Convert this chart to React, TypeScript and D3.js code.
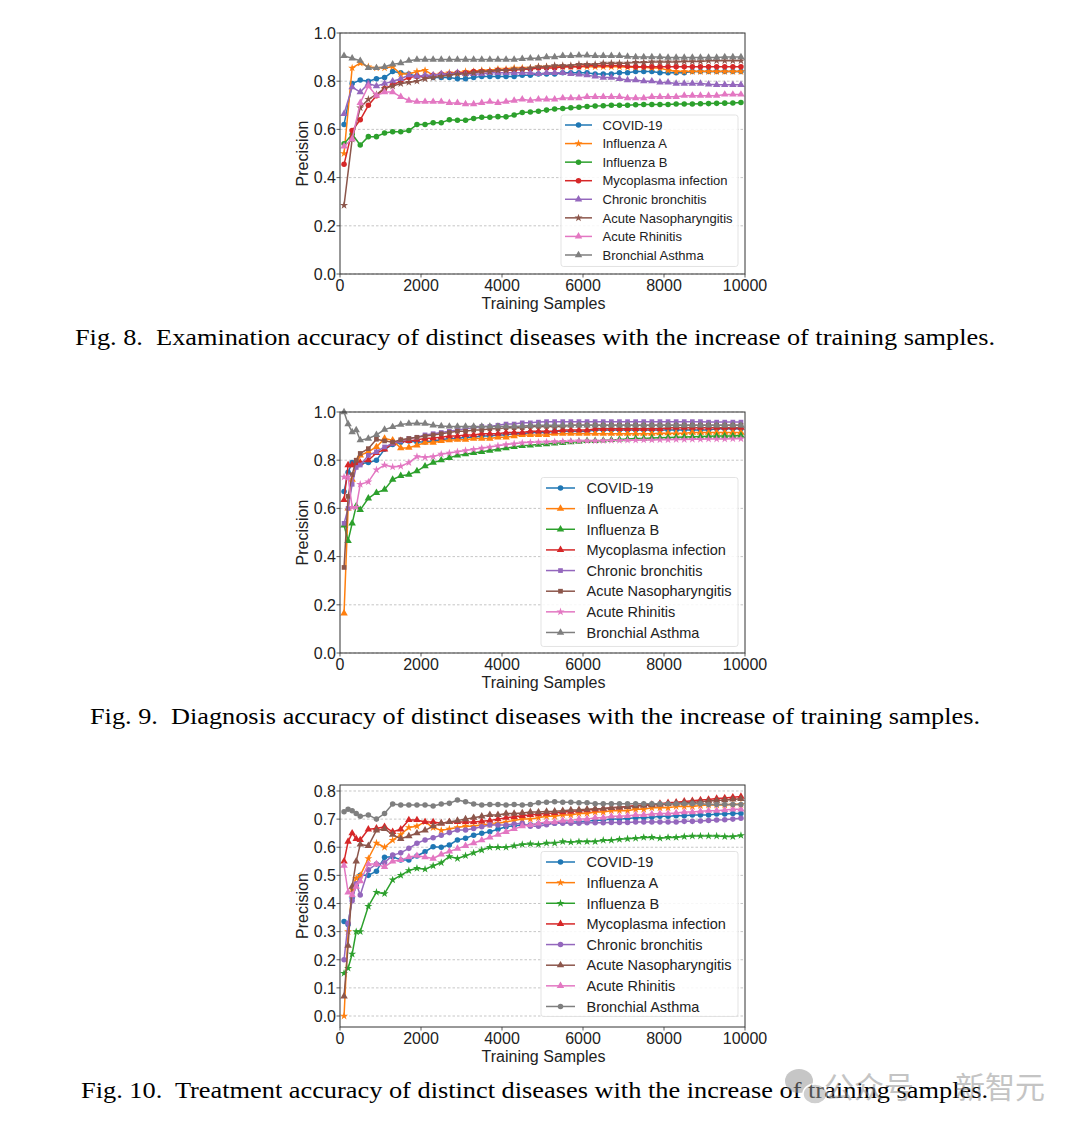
import React from 'react';
import * as d3 from 'd3';

// ---------- data ----------
const SERIES_NAMES = ['COVID-19', 'Influenza A', 'Influenza B', 'Mycoplasma infection', 'Chronic bronchitis', 'Acute Nasopharyngitis', 'Acute Rhinitis', 'Bronchial Asthma'];
const COLORS = ['#1f77b4', '#ff7f0e', '#2ca02c', '#d62728', '#9467bd', '#8c564b', '#e377c2', '#7f7f7f'];

// training-sample grids
const X_EXAM = d3.range(100, 10000, 200);
const X_FINE = [100, 200, 300, 400, 500, ...d3.range(700, 10000, 200)];

const X_TICKS = [0, 2000, 4000, 6000, 8000, 10000];

// Fig. 8 – examination
const EXAM_COVID = [0.62, 0.79, 0.805, 0.80, 0.81, 0.815, 0.84, 0.835, 0.83, 0.82, 0.82, 0.815, 0.815, 0.815, 0.81, 0.81, 0.815, 0.82, 0.82, 0.82, 0.82, 0.82, 0.825, 0.825, 0.83, 0.83, 0.83, 0.835, 0.835, 0.835, 0.835, 0.83, 0.83, 0.83, 0.835, 0.835, 0.84, 0.84, 0.84, 0.835, 0.835, 0.835, 0.835, 0.84, 0.84, 0.84, 0.84, 0.84, 0.84, 0.84];
const EXAM_FLU_A = [0.50, 0.855, 0.875, 0.86, 0.855, 0.855, 0.86, 0.83, 0.83, 0.84, 0.845, 0.825, 0.83, 0.835, 0.835, 0.84, 0.84, 0.845, 0.845, 0.85, 0.85, 0.855, 0.855, 0.855, 0.86, 0.86, 0.86, 0.86, 0.86, 0.86, 0.86, 0.86, 0.86, 0.86, 0.86, 0.858, 0.858, 0.858, 0.855, 0.855, 0.845, 0.84, 0.84, 0.84, 0.84, 0.84, 0.84, 0.84, 0.84, 0.84];
const EXAM_FLU_B = [0.54, 0.58, 0.535, 0.57, 0.57, 0.585, 0.59, 0.59, 0.595, 0.62, 0.62, 0.628, 0.628, 0.64, 0.638, 0.638, 0.645, 0.65, 0.65, 0.653, 0.652, 0.66, 0.67, 0.672, 0.675, 0.68, 0.685, 0.687, 0.69, 0.692, 0.695, 0.697, 0.698, 0.70, 0.70, 0.70, 0.702, 0.703, 0.703, 0.703, 0.703, 0.705, 0.705, 0.705, 0.706, 0.707, 0.708, 0.709, 0.71, 0.712];
const EXAM_MYCO = [0.455, 0.595, 0.64, 0.70, 0.74, 0.77, 0.785, 0.80, 0.815, 0.82, 0.82, 0.825, 0.83, 0.83, 0.835, 0.835, 0.84, 0.84, 0.84, 0.845, 0.845, 0.845, 0.85, 0.85, 0.855, 0.855, 0.855, 0.86, 0.86, 0.86, 0.865, 0.865, 0.865, 0.865, 0.865, 0.862, 0.86, 0.86, 0.86, 0.86, 0.86, 0.86, 0.86, 0.86, 0.86, 0.86, 0.86, 0.86, 0.86, 0.86];
const EXAM_CHRONIC = [0.665, 0.775, 0.755, 0.79, 0.78, 0.79, 0.80, 0.81, 0.825, 0.82, 0.825, 0.825, 0.83, 0.83, 0.835, 0.83, 0.83, 0.83, 0.835, 0.835, 0.835, 0.835, 0.835, 0.835, 0.83, 0.835, 0.835, 0.835, 0.83, 0.828, 0.825, 0.82, 0.815, 0.815, 0.81, 0.805, 0.805, 0.80, 0.80, 0.795, 0.795, 0.79, 0.79, 0.79, 0.79, 0.787, 0.785, 0.785, 0.785, 0.785];
const EXAM_NASO = [0.285, 0.56, 0.69, 0.725, 0.745, 0.77, 0.78, 0.79, 0.795, 0.80, 0.81, 0.815, 0.82, 0.825, 0.83, 0.83, 0.835, 0.84, 0.84, 0.845, 0.845, 0.85, 0.85, 0.855, 0.86, 0.86, 0.865, 0.865, 0.865, 0.87, 0.87, 0.87, 0.875, 0.875, 0.875, 0.875, 0.878, 0.878, 0.88, 0.88, 0.88, 0.88, 0.882, 0.882, 0.882, 0.885, 0.885, 0.885, 0.885, 0.885];
const EXAM_RHINITIS = [0.53, 0.56, 0.71, 0.78, 0.74, 0.755, 0.755, 0.735, 0.72, 0.715, 0.715, 0.715, 0.715, 0.71, 0.71, 0.705, 0.705, 0.71, 0.715, 0.71, 0.715, 0.72, 0.725, 0.72, 0.725, 0.725, 0.725, 0.73, 0.73, 0.73, 0.735, 0.735, 0.735, 0.735, 0.735, 0.73, 0.73, 0.73, 0.735, 0.735, 0.735, 0.735, 0.74, 0.74, 0.74, 0.74, 0.74, 0.745, 0.745, 0.745];
const EXAM_ASTHMA = [0.905, 0.895, 0.885, 0.855, 0.855, 0.86, 0.87, 0.875, 0.885, 0.89, 0.89, 0.89, 0.89, 0.89, 0.89, 0.89, 0.89, 0.89, 0.89, 0.89, 0.89, 0.89, 0.893, 0.895, 0.895, 0.90, 0.90, 0.905, 0.905, 0.907, 0.907, 0.905, 0.905, 0.905, 0.905, 0.902, 0.90, 0.90, 0.90, 0.90, 0.898, 0.898, 0.898, 0.898, 0.898, 0.898, 0.898, 0.90, 0.90, 0.90];

// Fig. 9 – diagnosis
const DIAG_COVID = [0.67, 0.75, 0.79, 0.79, 0.785, 0.79, 0.80, 0.845, 0.865, 0.875, 0.88, 0.876, 0.876, 0.88, 0.885, 0.89, 0.89, 0.895, 0.895, 0.90, 0.90, 0.905, 0.905, 0.91, 0.91, 0.915, 0.915, 0.915, 0.92, 0.92, 0.92, 0.92, 0.92, 0.925, 0.925, 0.925, 0.925, 0.925, 0.925, 0.925, 0.925, 0.925, 0.925, 0.925, 0.925, 0.925, 0.925, 0.925, 0.93, 0.93, 0.93, 0.93];
const DIAG_FLU_A = [0.165, 0.60, 0.72, 0.78, 0.82, 0.835, 0.855, 0.89, 0.883, 0.85, 0.852, 0.862, 0.873, 0.873, 0.88, 0.883, 0.885, 0.885, 0.89, 0.89, 0.89, 0.895, 0.895, 0.90, 0.905, 0.905, 0.905, 0.905, 0.91, 0.91, 0.91, 0.91, 0.91, 0.91, 0.91, 0.91, 0.91, 0.91, 0.91, 0.91, 0.91, 0.912, 0.912, 0.912, 0.912, 0.915, 0.915, 0.915, 0.915, 0.915, 0.915, 0.915];
const DIAG_FLU_B = [0.53, 0.465, 0.538, 0.61, 0.594, 0.642, 0.665, 0.678, 0.72, 0.735, 0.74, 0.755, 0.775, 0.79, 0.80, 0.81, 0.82, 0.825, 0.83, 0.835, 0.84, 0.845, 0.85, 0.855, 0.86, 0.862, 0.865, 0.867, 0.87, 0.872, 0.875, 0.877, 0.88, 0.88, 0.882, 0.884, 0.886, 0.888, 0.89, 0.89, 0.892, 0.893, 0.894, 0.895, 0.896, 0.897, 0.898, 0.899, 0.90, 0.90, 0.90, 0.902];
const DIAG_MYCO = [0.635, 0.78, 0.78, 0.785, 0.79, 0.80, 0.83, 0.845, 0.87, 0.88, 0.88, 0.885, 0.89, 0.892, 0.895, 0.90, 0.90, 0.905, 0.905, 0.91, 0.91, 0.91, 0.915, 0.915, 0.915, 0.92, 0.92, 0.92, 0.92, 0.925, 0.925, 0.925, 0.925, 0.93, 0.93, 0.93, 0.93, 0.93, 0.93, 0.93, 0.93, 0.93, 0.935, 0.935, 0.935, 0.935, 0.935, 0.935, 0.935, 0.935, 0.935, 0.935];
const DIAG_CHRONIC = [0.538, 0.60, 0.70, 0.77, 0.78, 0.82, 0.835, 0.855, 0.87, 0.88, 0.89, 0.895, 0.905, 0.91, 0.915, 0.92, 0.925, 0.93, 0.935, 0.94, 0.94, 0.945, 0.95, 0.95, 0.955, 0.955, 0.958, 0.96, 0.96, 0.96, 0.96, 0.96, 0.96, 0.96, 0.96, 0.96, 0.96, 0.96, 0.96, 0.96, 0.96, 0.96, 0.96, 0.96, 0.96, 0.96, 0.96, 0.958, 0.958, 0.958, 0.958, 0.958];
const DIAG_NASO = [0.355, 0.65, 0.74, 0.80, 0.828, 0.848, 0.887, 0.88, 0.875, 0.885, 0.89, 0.895, 0.90, 0.905, 0.91, 0.915, 0.92, 0.92, 0.925, 0.925, 0.93, 0.93, 0.935, 0.935, 0.935, 0.94, 0.94, 0.94, 0.94, 0.94, 0.945, 0.945, 0.945, 0.945, 0.945, 0.945, 0.945, 0.945, 0.945, 0.945, 0.945, 0.945, 0.945, 0.945, 0.945, 0.945, 0.945, 0.945, 0.945, 0.945, 0.945, 0.945];
const DIAG_RHINITIS = [0.73, 0.73, 0.605, 0.605, 0.70, 0.71, 0.76, 0.78, 0.772, 0.775, 0.79, 0.815, 0.812, 0.815, 0.825, 0.83, 0.835, 0.84, 0.845, 0.85, 0.855, 0.86, 0.865, 0.868, 0.872, 0.874, 0.875, 0.876, 0.877, 0.878, 0.879, 0.88, 0.88, 0.88, 0.881, 0.882, 0.882, 0.883, 0.883, 0.884, 0.884, 0.885, 0.885, 0.886, 0.886, 0.887, 0.887, 0.888, 0.888, 0.888, 0.889, 0.889];
const DIAG_ASTHMA = [1.0, 0.95, 0.917, 0.925, 0.883, 0.89, 0.905, 0.927, 0.938, 0.948, 0.952, 0.953, 0.952, 0.945, 0.942, 0.94, 0.94, 0.94, 0.94, 0.94, 0.94, 0.94, 0.94, 0.94, 0.942, 0.944, 0.945, 0.945, 0.945, 0.945, 0.945, 0.945, 0.945, 0.945, 0.945, 0.945, 0.945, 0.945, 0.945, 0.945, 0.945, 0.945, 0.945, 0.945, 0.945, 0.945, 0.945, 0.945, 0.945, 0.945, 0.945, 0.945];

// Fig. 10 – treatment
const TREAT_COVID = [0.336, 0.325, 0.42, 0.465, 0.50, 0.50, 0.515, 0.564, 0.566, 0.555, 0.555, 0.569, 0.584, 0.602, 0.60, 0.608, 0.626, 0.632, 0.643, 0.65, 0.655, 0.664, 0.673, 0.676, 0.679, 0.68, 0.683, 0.685, 0.685, 0.688, 0.69, 0.69, 0.693, 0.695, 0.697, 0.70, 0.70, 0.702, 0.705, 0.705, 0.707, 0.71, 0.71, 0.712, 0.712, 0.715, 0.715, 0.715, 0.718, 0.718, 0.72, 0.72];
const TREAT_FLU_A = [0.0, 0.30, 0.45, 0.49, 0.50, 0.56, 0.615, 0.60, 0.625, 0.645, 0.67, 0.675, 0.69, 0.67, 0.66, 0.665, 0.67, 0.675, 0.675, 0.68, 0.68, 0.685, 0.69, 0.695, 0.70, 0.70, 0.705, 0.71, 0.71, 0.715, 0.715, 0.72, 0.72, 0.725, 0.725, 0.73, 0.73, 0.73, 0.735, 0.735, 0.74, 0.74, 0.74, 0.745, 0.745, 0.745, 0.748, 0.75, 0.75, 0.75, 0.752, 0.752];
const TREAT_FLU_B = [0.152, 0.17, 0.22, 0.30, 0.30, 0.39, 0.44, 0.435, 0.484, 0.50, 0.517, 0.525, 0.522, 0.534, 0.545, 0.567, 0.56, 0.57, 0.58, 0.59, 0.60, 0.60, 0.60, 0.605, 0.61, 0.612, 0.61, 0.615, 0.615, 0.62, 0.618, 0.62, 0.62, 0.62, 0.625, 0.625, 0.628, 0.63, 0.632, 0.635, 0.635, 0.632, 0.635, 0.635, 0.638, 0.64, 0.64, 0.64, 0.64, 0.638, 0.638, 0.642];
const TREAT_MYCO = [0.55, 0.62, 0.65, 0.63, 0.626, 0.664, 0.667, 0.673, 0.655, 0.664, 0.697, 0.697, 0.69, 0.69, 0.685, 0.69, 0.69, 0.69, 0.69, 0.692, 0.695, 0.70, 0.705, 0.708, 0.712, 0.715, 0.718, 0.72, 0.722, 0.725, 0.727, 0.73, 0.732, 0.735, 0.737, 0.74, 0.742, 0.745, 0.748, 0.75, 0.752, 0.755, 0.758, 0.76, 0.763, 0.765, 0.768, 0.77, 0.773, 0.775, 0.778, 0.78];
const TREAT_CHRONIC = [0.20, 0.33, 0.41, 0.47, 0.43, 0.52, 0.54, 0.545, 0.572, 0.58, 0.596, 0.614, 0.626, 0.634, 0.643, 0.652, 0.661, 0.661, 0.667, 0.673, 0.679, 0.679, 0.679, 0.683, 0.685, 0.675, 0.675, 0.68, 0.685, 0.685, 0.685, 0.685, 0.687, 0.687, 0.687, 0.688, 0.688, 0.688, 0.69, 0.69, 0.69, 0.69, 0.69, 0.69, 0.692, 0.692, 0.693, 0.695, 0.697, 0.698, 0.70, 0.703];
const TREAT_NASO = [0.07, 0.25, 0.46, 0.55, 0.61, 0.605, 0.66, 0.665, 0.645, 0.63, 0.64, 0.65, 0.66, 0.675, 0.685, 0.69, 0.695, 0.70, 0.705, 0.71, 0.715, 0.715, 0.72, 0.72, 0.722, 0.725, 0.725, 0.727, 0.728, 0.73, 0.732, 0.733, 0.735, 0.737, 0.738, 0.74, 0.742, 0.744, 0.746, 0.748, 0.75, 0.752, 0.754, 0.756, 0.758, 0.76, 0.762, 0.764, 0.766, 0.768, 0.77, 0.772];
const TREAT_RHINITIS = [0.535, 0.44, 0.43, 0.46, 0.48, 0.54, 0.54, 0.53, 0.55, 0.555, 0.565, 0.57, 0.565, 0.56, 0.575, 0.585, 0.595, 0.605, 0.615, 0.625, 0.635, 0.645, 0.655, 0.665, 0.675, 0.68, 0.685, 0.69, 0.69, 0.695, 0.695, 0.70, 0.70, 0.705, 0.705, 0.71, 0.71, 0.712, 0.715, 0.715, 0.718, 0.72, 0.72, 0.722, 0.725, 0.725, 0.728, 0.73, 0.73, 0.732, 0.735, 0.735];
const TREAT_ASTHMA = [0.726, 0.735, 0.73, 0.72, 0.71, 0.715, 0.70, 0.72, 0.754, 0.75, 0.75, 0.75, 0.75, 0.747, 0.754, 0.756, 0.768, 0.762, 0.754, 0.75, 0.752, 0.752, 0.75, 0.752, 0.75, 0.752, 0.758, 0.76, 0.762, 0.76, 0.76, 0.758, 0.758, 0.755, 0.755, 0.755, 0.755, 0.755, 0.755, 0.755, 0.755, 0.755, 0.755, 0.755, 0.755, 0.755, 0.755, 0.752, 0.752, 0.752, 0.752, 0.752];

const EXAM_MARKERS = ['circle', 'star', 'circle', 'circle', 'triangle', 'star', 'triangle', 'triangle'];
const DIAG_MARKERS = ['circle', 'triangle', 'triangle', 'triangle', 'square', 'square', 'star', 'triangle'];
const TREAT_MARKERS = ['circle', 'star', 'star', 'triangle', 'circle', 'triangle', 'triangle', 'circle'];

const CAPTIONS = [
  'Fig. 8.  Examination accuracy of distinct diseases with the increase of training samples.',
  'Fig. 9.  Diagnosis accuracy of distinct diseases with the increase of training samples.',
  'Fig. 10.  Treatment accuracy of distinct diseases with the increase of training samples.',
];

// ---------- layout ----------
const SANS = '"Liberation Sans", Arial, "DejaVu Sans", sans-serif';
const SERIF = '"Liberation Serif", "DejaVu Serif", serif';
const LEFT = 340;
const RIGHT = 745;

const PANELS = [
  {
    top: 33, bottom: 274, yDomain: [0, 1], yTicks: d3.range(0, 1.01, 0.2), xs: X_EXAM,
    series: [EXAM_COVID, EXAM_FLU_A, EXAM_FLU_B, EXAM_MYCO, EXAM_CHRONIC, EXAM_NASO, EXAM_RHINITIS, EXAM_ASTHMA],
    markers: EXAM_MARKERS,
    legend: { x0: 561, x1: 738, first: 125, step: 18.57, font: 13, lx0: 565, lx1: 592, tx: 602.5, padTop: 10, padBot: 11.5 },
    caption: { text: CAPTIONS[0], x0: 75, x1: 995, y: 345 },
  },
  {
    top: 412, bottom: 653, yDomain: [0, 1], yTicks: d3.range(0, 1.01, 0.2), xs: X_FINE,
    series: [DIAG_COVID, DIAG_FLU_A, DIAG_FLU_B, DIAG_MYCO, DIAG_CHRONIC, DIAG_NASO, DIAG_RHINITIS, DIAG_ASTHMA],
    markers: DIAG_MARKERS,
    legend: { x0: 541, x1: 738, first: 488, step: 20.64, font: 14.5, lx0: 546, lx1: 575, tx: 586.5, padTop: 10.5, padBot: 14 },
    caption: { text: CAPTIONS[1], x0: 90, x1: 980, y: 724 },
  },
  {
    top: 785, bottom: 1027, yDomain: [-0.0391, 0.8213], yTicks: d3.range(0, 0.81, 0.1), xs: X_FINE,
    series: [TREAT_COVID, TREAT_FLU_A, TREAT_FLU_B, TREAT_MYCO, TREAT_CHRONIC, TREAT_NASO, TREAT_RHINITIS, TREAT_ASTHMA],
    markers: TREAT_MARKERS,
    legend: { x0: 541, x1: 738, first: 862, step: 20.64, font: 14.5, lx0: 546, lx1: 575, tx: 586.5, padTop: 10.5, padBot: 10 },
    caption: { text: CAPTIONS[2], x0: 81, x1: 988, y: 1098 },
  },
];

const symbolFor = (m: string) => {
  if (m === 'circle') return d3.symbol(d3.symbolCircle, 24)();
  if (m === 'triangle') return d3.symbol(d3.symbolTriangle, 24)();
  if (m === 'square') return d3.symbol(d3.symbolSquare, 22)();
  return d3.symbol(d3.symbolStar, 20)();
};

function Panel({ cfg }: { cfg: any }) {
  const x = d3.scaleLinear().domain([0, 10000]).range([LEFT, RIGHT]);
  const y = d3.scaleLinear().domain(cfg.yDomain).range([cfg.bottom, cfg.top]);
  const fmt = d3.format('.1f');
  const line = d3.line<number>().x((_, i) => x(cfg.xs[i])).y((d) => y(d));
  const lg = cfg.legend;
  const lgTop = lg.first - lg.padTop;
  const lgBot = lg.first + lg.step * 7 + lg.padBot;
  const midY = (cfg.top + cfg.bottom) / 2;
  return (
    <g>
      {/* grid */}
      {cfg.yTicks.map((t: number) => (
        <line key={'g' + t} x1={LEFT} x2={RIGHT} y1={y(t)} y2={y(t)} stroke="#b8b8b8" strokeWidth={0.8} strokeDasharray="2.5,2" />
      ))}
      {/* series */}
      {cfg.series.map((vals: number[], si: number) => (
        <g key={'s' + si}>
          <path d={line(vals) || ''} fill="none" stroke={COLORS[si]} strokeWidth={1.5} strokeLinejoin="round" />
          {vals.map((v, i) => (
            <path key={i} d={symbolFor(cfg.markers[si]) || ''} transform={`translate(${x(cfg.xs[i])},${y(v)})`} fill={COLORS[si]} />
          ))}
        </g>
      ))}
      {/* spines */}
      <rect x={LEFT} y={cfg.top} width={RIGHT - LEFT} height={cfg.bottom - cfg.top} fill="none" stroke="#333" strokeWidth={1} />
      {/* y ticks */}
      {cfg.yTicks.map((t: number) => (
        <g key={'yt' + t}>
          <line x1={LEFT - 3.5} x2={LEFT} y1={y(t)} y2={y(t)} stroke="#333" strokeWidth={0.8} />
          <text x={LEFT - 4} y={y(t) + 5.8} textAnchor="end" fontSize={16} fontFamily={SANS} fill="#222">{fmt(t)}</text>
        </g>
      ))}
      {/* x ticks */}
      {X_TICKS.map((t) => (
        <g key={'xt' + t}>
          <line x1={x(t)} x2={x(t)} y1={cfg.bottom} y2={cfg.bottom + 3.5} stroke="#333" strokeWidth={0.8} />
          <text x={x(t)} y={cfg.bottom + 16.8} textAnchor="middle" fontSize={16} fontFamily={SANS} fill="#222">{t}</text>
        </g>
      ))}
      <text x={(LEFT + RIGHT) / 2 + 1} y={cfg.bottom + 35} textAnchor="middle" fontSize={16} fontFamily={SANS} fill="#222">Training Samples</text>
      <text transform={`translate(${307.5},${midY}) rotate(-90)`} textAnchor="middle" fontSize={16} fontFamily={SANS} fill="#222">Precision</text>
      {/* legend */}
      <rect x={lg.x0} y={lgTop} width={lg.x1 - lg.x0} height={lgBot - lgTop} rx={2.5} fill="#fff" fillOpacity={0.85} stroke="#dcdcdc" strokeWidth={0.8} />
      {SERIES_NAMES.map((name, si) => {
        const ly = lg.first + si * lg.step;
        return (
          <g key={'l' + si}>
            <line x1={lg.lx0} x2={lg.lx1} y1={ly} y2={ly} stroke={COLORS[si]} strokeWidth={1.5} />
            <path d={symbolFor(cfg.markers[si]) || ''} transform={`translate(${(lg.lx0 + lg.lx1) / 2},${ly})`} fill={COLORS[si]} />
            <text x={lg.tx} y={ly + lg.font * 0.36} fontSize={lg.font} fontFamily={SANS} fill="#222">{name}</text>
          </g>
        );
      })}
      {/* caption */}
      <text x={cfg.caption.x0} y={cfg.caption.y} fontSize={24} fontFamily={SERIF} fill="#000" textLength={cfg.caption.x1 - cfg.caption.x0} lengthAdjust="spacingAndGlyphs" style={{ whiteSpace: 'pre' }}>{cfg.caption.text}</text>
    </g>
  );
}

export default function App() {
  return (
    <svg width={1080} height={1130} viewBox="0 0 1080 1130" style={{ position: 'absolute', left: 0, top: 0, background: '#fff' }}>
      <rect x={0} y={0} width={1080} height={1130} fill="#fff" />
      {PANELS.map((p, i) => (
        <Panel key={i} cfg={p} />
      ))}
      {/* watermark */}
      <g opacity={0.5}>
        <ellipse cx={799} cy={1081} rx={14} ry={12} fill="#8f8f8f" />
        <ellipse cx={815} cy={1094} rx={12} ry={10} fill="#a0a0a0" stroke="#fff" strokeWidth={1.5} />
        <text x={824} y={1098} fontSize={30} fontFamily='"Noto Sans CJK SC", sans-serif' fill="#8a8a8a">公众号</text>
        <text x={955} y={1098} fontSize={30} fontFamily='"Noto Sans CJK SC", sans-serif' fill="#8a8a8a">新智元</text>
      </g>
    </svg>
  );
}
